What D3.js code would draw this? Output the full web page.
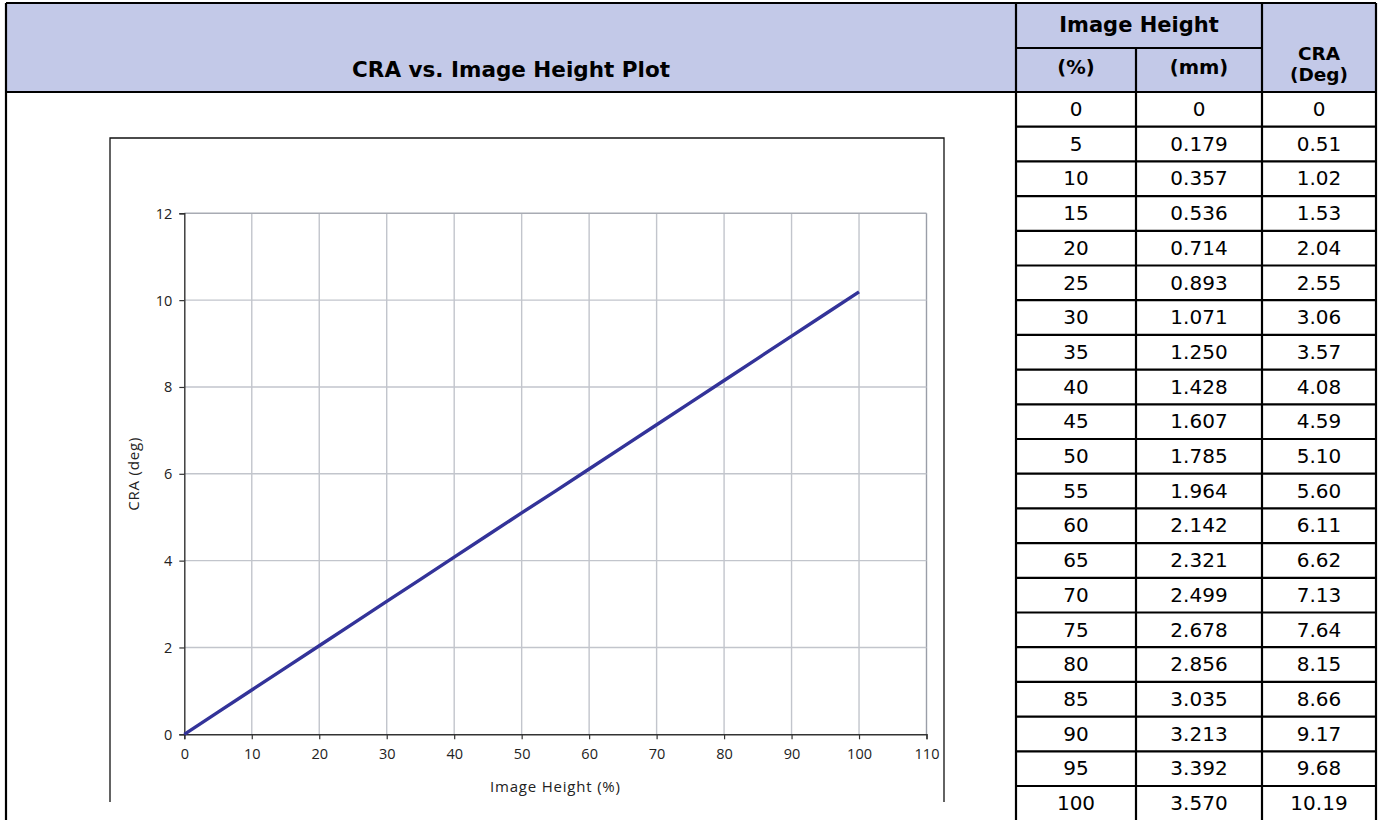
<!DOCTYPE html>
<html><head><meta charset="utf-8">
<script src="https://cdn.jsdelivr.net/npm/d3@7"></script>
<style>
html,body{margin:0;padding:0;background:#fff;}
svg{display:block;}
</style></head>
<body>
<svg id="c" width="1378" height="820"></svg>
<script>
const title = "CRA vs. Image Height Plot";
const pct = [0,5,10,15,20,25,30,35,40,45,50,55,60,65,70,75,80,85,90,95,100];
const mm = ["0","0.179","0.357","0.536","0.714","0.893","1.071","1.250","1.428","1.607","1.785","1.964","2.142","2.321","2.499","2.678","2.856","3.035","3.213","3.392","3.570"];
const cra = [0,0.51,1.02,1.53,2.04,2.55,3.06,3.57,4.08,4.59,5.10,5.60,6.11,6.62,7.13,7.64,8.15,8.66,9.17,9.68,10.19];
const craLabels = ["0","0.51","1.02","1.53","2.04","2.55","3.06","3.57","4.08","4.59","5.10","5.60","6.11","6.62","7.13","7.64","8.15","8.66","9.17","9.68","10.19"];
const xTicks = [0,10,20,30,40,50,60,70,80,90,100,110];
const yTicks = [0,2,4,6,8,10,12];
const xTitle = "Image Height (%)";
const yTitle = "CRA (deg)";
const hdrGroup = "Image Height";
const hdrPct = "(%)";
const hdrMm = "(mm)";
const hdrCra1 = "CRA";
const hdrCra2 = "(Deg)";

const svg = d3.select("#c");
const font = "'Open Sans', 'DejaVu Sans', sans-serif";
const tfont = "'DejaVu Sans', Verdana, sans-serif";
const hdrFill = "#c3c9e8";

// table geometry
const L = 6, R = 1376, T = 3;
const c1 = 1016, c2 = 1136, c3 = 1262;
const hMid = 48, hBot = 92;
const rowH = 34.7;
const rowTop = i => hBot + i * rowH;

// header background
svg.append("rect").attr("x", L).attr("y", T).attr("width", R - L).attr("height", hBot - T).attr("fill", hdrFill);

function hdr(xp, yp, size, txt) {
  svg.append("text").attr("x", xp).attr("y", yp).attr("text-anchor", "middle")
    .attr("font-family", tfont).attr("font-weight", "bold").attr("font-size", size).attr("fill", "#000").text(txt);
}
hdr((L + c1) / 2, 77, 21.5, title);
hdr((c1 + c3) / 2, 32, 21, hdrGroup);
hdr((c1 + c2) / 2, 74, 19.5, hdrPct);
hdr((c2 + c3) / 2, 74, 19.5, hdrMm);
hdr((c3 + R) / 2, 59.5, 18.5, hdrCra1);
hdr((c3 + R) / 2, 81, 18.5, hdrCra2);

// data rows
const rows = svg.append("g").attr("font-family", tfont).attr("font-size", 20).attr("text-anchor", "middle").attr("fill", "#000");
pct.forEach((p, i) => {
  const yb = rowTop(i) + 24;
  rows.append("text").attr("x", (c1 + c2) / 2).attr("y", yb).text(p);
  rows.append("text").attr("x", (c2 + c3) / 2).attr("y", yb).text(mm[i]);
  rows.append("text").attr("x", (c3 + R) / 2).attr("y", yb).text(craLabels[i]);
});

// table lines
const tl = svg.append("g").attr("stroke", "#000").attr("stroke-width", 2.2);
tl.append("line").attr("x1", L).attr("x2", R).attr("y1", T).attr("y2", T);
tl.append("line").attr("x1", L).attr("x2", L).attr("y1", T).attr("y2", 820);
tl.append("line").attr("x1", R).attr("x2", R).attr("y1", T).attr("y2", 820);
tl.append("line").attr("x1", L).attr("x2", R).attr("y1", hBot).attr("y2", hBot);
tl.append("line").attr("x1", c1).attr("x2", c3).attr("y1", hMid).attr("y2", hMid);
tl.append("line").attr("x1", c1).attr("x2", c1).attr("y1", T).attr("y2", 820);
tl.append("line").attr("x1", c2).attr("x2", c2).attr("y1", hMid).attr("y2", 820);
tl.append("line").attr("x1", c3).attr("x2", c3).attr("y1", T).attr("y2", 820);
pct.forEach((p, i) => {
  if (i > 0) tl.append("line").attr("x1", c1).attr("x2", R).attr("y1", rowTop(i)).attr("y2", rowTop(i));
});

// chart frame (open at bottom)
svg.append("path").attr("d", "M110,802 L110,138 L944,138 L944,802")
  .attr("stroke", "#111").attr("stroke-width", 1.3).attr("fill", "none");

// scales
const x = d3.scaleLinear().domain([0, 110]).range([184.3, 926.5]);
const y = d3.scaleLinear().domain([0, 12]).range([734.3, 213.3]);

// gridlines
const grid = svg.append("g").attr("stroke-width", 1.4);
xTicks.slice(1).forEach(t => grid.append("line").attr("x1", x(t)).attr("x2", x(t)).attr("y1", y(12)).attr("y2", y(0))
  .attr("stroke", t === 110 ? "#9a9ea8" : "#c2c5cc"));
yTicks.slice(1).forEach(t => grid.append("line").attr("x1", x(0)).attr("x2", x(110)).attr("y1", y(t)).attr("y2", y(t))
  .attr("stroke", t === 12 ? "#a8abb3" : "#c2c5cc"));

// axes
const xAxis = d3.axisBottom(x).tickValues(xTicks).tickSize(5).tickPadding(14).tickFormat(d3.format("d"));
const yAxis = d3.axisLeft(y).tickValues(yTicks).tickSize(5).tickPadding(7).tickFormat(d3.format("d"));
const gx = svg.append("g").attr("transform", `translate(0,${y(0)})`).call(xAxis);
const gy = svg.append("g").attr("transform", `translate(${x(0)},0)`).call(yAxis);
[gx, gy].forEach(g => {
  g.select(".domain").attr("stroke", "#333").attr("stroke-width", 1.4);
  g.selectAll(".tick line").attr("stroke", "#333").attr("stroke-width", 1.2);
  g.selectAll(".tick text").attr("font-family", font).attr("font-size", 14.5).attr("fill", "#222");
});
gx.selectAll(".tick text").attr("dy", "0.71em").attr("y", 5 + 9);
gy.selectAll(".tick text").attr("dy", "0.34em");

// axis titles
svg.append("text").attr("x", (x(0) + x(110)) / 2).attr("y", 792).attr("text-anchor", "middle")
  .attr("font-family", font).attr("font-size", 15).attr("letter-spacing", 0.8).attr("fill", "#222").text(xTitle);
svg.append("text").attr("transform", `translate(139,${(y(0) + y(12)) / 2}) rotate(-90)`).attr("text-anchor", "middle")
  .attr("font-family", font).attr("font-size", 15).attr("letter-spacing", 0.8).attr("fill", "#222").text(yTitle);

// series line
const line = d3.line().x((d, i) => x(pct[i])).y(d => y(d));
svg.append("path").datum(cra).attr("d", line).attr("fill", "none").attr("stroke", "#333399").attr("stroke-width", 3.4);
</script>
</body></html>
